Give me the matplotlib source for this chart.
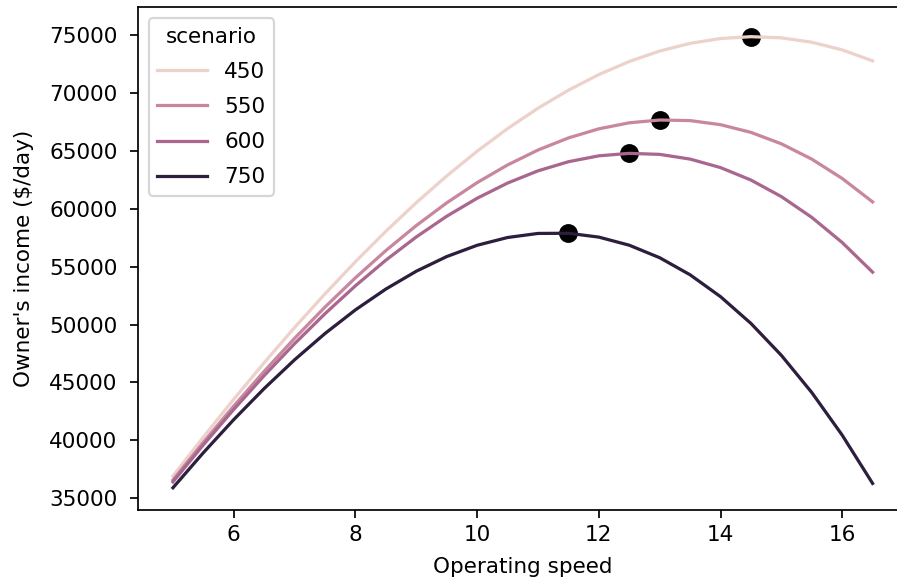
import matplotlib
matplotlib.use("Agg")
import matplotlib.pyplot as plt
import pandas as pd
import seaborn as sns

# values
speed = [5.0, 5.5, 6.0, 6.5, 7.0, 7.5, 8.0, 8.5, 9.0, 9.5, 10.0, 10.5,
         11.0, 11.5, 12.0, 12.5, 13.0, 13.5, 14.0, 14.5, 15.0, 15.5, 16.0, 16.5]
income_450 = [36923, 40288, 43553, 46709, 49746, 52655, 55427, 58053, 60524, 62831, 64964, 66915,
              68674, 70232, 71580, 72709, 73611, 74274, 74691, 74853, 74750, 74373, 73714, 72762]
income_550 = [36584, 39837, 42968, 45965, 48816, 51512, 54039, 56389, 58548, 60507, 62254, 63778,
              65067, 66110, 66897, 67417, 67657, 67607, 67255, 66591, 65604, 64282, 62614, 60588]
income_600 = [36415, 39613, 42676, 45594, 48353, 50942, 53348, 55560, 57564, 59350, 60904, 62215,
              63270, 64057, 64565, 64780, 64691, 64285, 63551, 62476, 61048, 59254, 57084, 54524]
income_750 = [35908, 38937, 41799, 44479, 46961, 49229, 51270, 53066, 54605, 55869, 56844, 57515,
              57866, 57882, 57549, 56850, 55771, 54296, 52410, 50098, 47345, 44136, 40454, 36286]
scenarios = [450, 550, 600, 750]

# optimum for each scenario
opt_speed = [14.5, 13.0, 12.5, 11.5]
opt_income = [74853, 67657, 64780, 57882]

rows = []
for sc, vals in zip(scenarios, [income_450, income_550, income_600, income_750]):
    for v, inc in zip(speed, vals):
        rows.append((v, inc, sc))
df = pd.DataFrame(rows, columns=["speed", "income", "scenario"])

fig = plt.figure(figsize=(897 / 155, 583 / 155), dpi=155)
ax = fig.add_axes([0.1538, 0.1252, 0.858, 0.862])

ax.scatter(opt_speed, opt_income, color="black", s=60)
sns.lineplot(data=df, x="speed", y="income", hue="scenario", ax=ax)

ax.set_xlim(4.425, 17.075)
ax.set_ylim(33990, 77374)
ax.tick_params(axis="y", pad=6)
ax.set_xlabel("Operating speed", labelpad=5.5)
ax.set_ylabel("Owner's income ($/day)", labelpad=7)
ax.legend(title="scenario", loc="upper left", labelspacing=0.7, handlelength=2.3)

fig.savefig("out.png", dpi=155)
